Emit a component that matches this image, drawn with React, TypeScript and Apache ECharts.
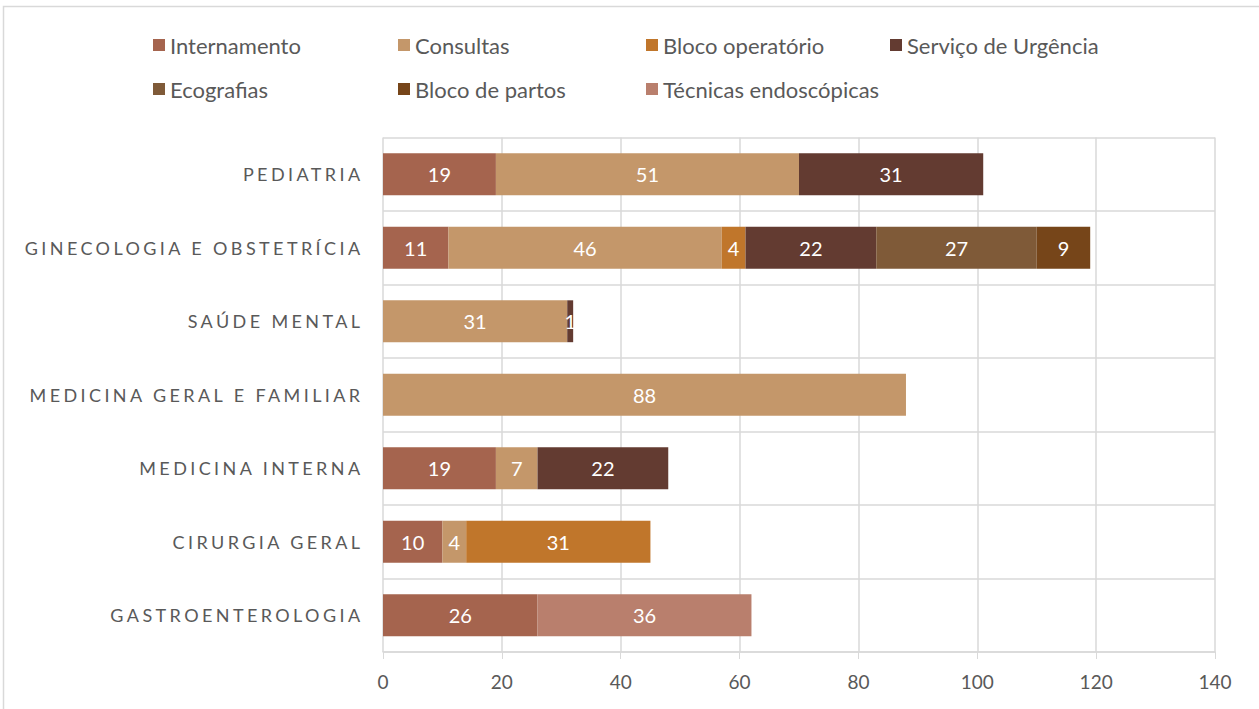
import React, { useEffect, useRef } from "react";
import * as echarts from "echarts";

const categories = [
  "GASTROENTEROLOGIA",
  "CIRURGIA GERAL",
  "MEDICINA INTERNA",
  "MEDICINA GERAL E FAMILIAR",
  "SAÚDE MENTAL",
  "GINECOLOGIA E OBSTETRÍCIA",
  "PEDIATRIA",
];

const seriesNames = [
  "Internamento",
  "Consultas",
  "Bloco operatório",
  "Serviço de Urgência",
  "Ecografias",
  "Bloco de partos",
  "Técnicas endoscópicas",
];

const internamento = [26, 10, 19, null, null, 11, 19];
const consultas = [null, 4, 7, 88, 31, 46, 51];
const blocoOperatorio = [null, 31, null, null, null, 4, null];
const servicoUrgencia = [null, null, 22, null, 1, 22, 31];
const ecografias = [null, null, null, null, null, 27, null];
const blocoPartos = [null, null, null, null, null, 9, null];
const tecnicasEndoscopicas = [36, null, null, null, null, null, null];

const seriesValues = [
  internamento,
  consultas,
  blocoOperatorio,
  servicoUrgencia,
  ecografias,
  blocoPartos,
  tecnicasEndoscopicas,
];

const colors = [
  "#A5644E",
  "#C4976A",
  "#C0762B",
  "#633B31",
  "#7F5A38",
  "#764519",
  "#B97F6D",
];

const xTicks = [0, 20, 40, 60, 80, 100, 120, 140];

const legendPos = [
  [153, 34],
  [398, 34],
  [646, 34],
  [890, 34],
  [153, 78],
  [398, 78],
  [646, 78],
];

const FONT = "Lato, 'Open Sans', sans-serif";

export default function App() {
  const ref = useRef<HTMLDivElement>(null);

  useEffect(() => {
    if (!ref.current) return;
    const chart = echarts.init(ref.current, null, { renderer: "svg" });
    const option: any = {
      animation: false,
      backgroundColor: "#ffffff",
      textStyle: { fontFamily: FONT },
      graphic: [
        {
          type: "rect",
          shape: { x: 3.5, y: 6.5, width: 1400, height: 900 },
          style: { fill: "none", stroke: "#d9d9d9", lineWidth: 1.5 },
          silent: true,
        },
      ],
      legend: seriesNames.map((n, i) => ({
        data: [n],
        left: legendPos[i][0],
        top: legendPos[i][1],
        padding: 0,
        icon: "rect",
        itemWidth: 12,
        itemHeight: 12,
        textStyle: { color: "#595959", fontSize: 22, fontFamily: FONT },
        selectedMode: false,
      })),
      grid: { left: 383, right: 44, top: 137.5, bottom: 57, containLabel: false },
      xAxis: {
        type: "value",
        min: xTicks[0],
        max: xTicks[xTicks.length - 1],
        interval: 20,
        axisLine: { show: true, lineStyle: { color: "#d9d9d9", width: 1.5 } },
        axisTick: { show: true, length: 7, lineStyle: { color: "#d9d9d9" } },
        splitLine: { show: true, lineStyle: { color: "#d9d9d9", width: 1.5 } },
        axisLabel: { color: "#595959", fontSize: 19, margin: 20, fontFamily: FONT },
      },
      yAxis: {
        type: "category",
        data: categories,
        axisLine: { show: false },
        axisTick: { show: false },
        splitLine: { show: true, lineStyle: { color: "#d9d9d9", width: 1.5 } },
        axisLabel: { color: "#595959", fontSize: 18, margin: 19.5, fontFamily: FONT },
      },
      series: seriesNames.map((n, i) => ({
        name: n,
        type: "bar",
        stack: "total",
        barWidth: "57%",
        itemStyle: { color: colors[i] },
        label: {
          show: true,
          position: "inside",
          color: "#ffffff",
          fontSize: 20,
          fontFamily: FONT,
          formatter: (p: any) => (p.value == null ? "" : String(p.value)),
        },
        data: seriesValues[i],
      })),
    };
    chart.setOption(option);
    return () => chart.dispose();
  }, []);

  return (
    <>
      <style>{`svg text[text-anchor="end"] { letter-spacing: 3.4px; }`}</style>
      <div
        ref={ref}
        style={{ position: "fixed", left: 0, top: 0, width: 1259, height: 709 }}
      />
    </>
  );
}
